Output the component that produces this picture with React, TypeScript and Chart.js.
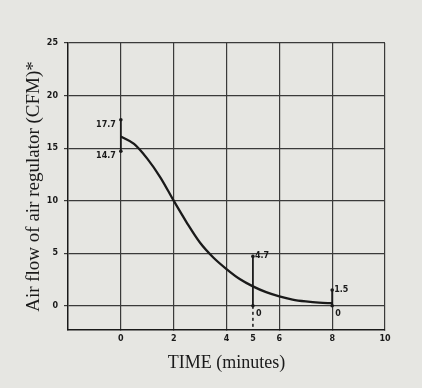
import React, { useEffect, useRef } from "react";
import { Chart, registerables } from "chart.js";
Chart.register(...registerables);

const curveX = [0, 0.5, 1, 1.5, 2, 2.5, 3, 3.5, 4, 4.5, 5, 5.5, 6, 6.5, 7, 7.5, 8];
const curveY = [16.1, 15.4, 14.0, 12.2, 10.0, 7.9, 6.0, 4.6, 3.5, 2.55, 1.85, 1.3, 0.9, 0.6, 0.42, 0.3, 0.25];
const markerX = [0, 5, 8];
const markerLow = [14.7, 0, 0];
const markerHigh = [17.7, 4.7, 1.5];
const noteX = [0, 0, 5, 5, 8, 8];
const noteY = [17.7, 14.7, 4.7, 0, 1.5, 0];
const noteText = ["17.7", "14.7", "4.7", "0", "1.5", "0"];
const xTicks = [0, 2, 4, 5, 6, 8, 10];
const yTicks = [0, 5, 10, 15, 20, 25];
const xMin = -2;
const xMax = 10;
const yMin = -2.3;
const yMax = 25;
const dashedX = 5;
const xTitle = "TIME (minutes)";
const yTitle = "Air flow of air regulator (CFM)*";

const INK = "#1a1a1a";
const GRID = "#3a3a3a";
const BG = "#e6e6e2";

const notesPlugin = {
  id: "notes",
  afterDatasetsDraw(chart: any) {
    const { ctx, scales } = chart;
    ctx.save();
    ctx.fillStyle = INK;
    ctx.font = "bold 8px 'DejaVu Sans'";
    ctx.textBaseline = "middle";
    noteText.forEach((t, i) => {
      const px = scales.x.getPixelForValue(noteX[i]);
      const py = scales.y.getPixelForValue(noteY[i]);
      if (noteX[i] === 0) {
        ctx.textAlign = "right";
        ctx.fillText(t, px - 5, py + 5);
      } else if (noteY[i] === 0) {
        ctx.textAlign = "left";
        ctx.fillText(t, px + 3, py + 8);
      } else {
        ctx.textAlign = "left";
        ctx.fillText(t, px + 2, py);
      }
    });
    ctx.restore();
  },
};

const bgPlugin = {
  id: "bg",
  beforeDraw(chart: any) {
    const { ctx, width, height } = chart;
    ctx.save();
    ctx.fillStyle = BG;
    ctx.fillRect(0, 0, width, height);
    ctx.restore();
  },
};

export default function App() {
  const ref = useRef<HTMLCanvasElement>(null);
  useEffect(() => {
    document.body.style.margin = "0";
    const markerSets = markerX.map((mx, i) => ({
      data: [
        { x: mx, y: markerLow[i] },
        { x: mx, y: markerHigh[i] },
      ],
      showLine: true,
      borderColor: INK,
      backgroundColor: INK,
      borderWidth: 1.8,
      pointRadius: 1.8,
      pointBorderWidth: 0,
    }));
    const chart = new Chart(ref.current!, {
      type: "scatter",
      data: {
        datasets: [
          {
            data: curveX.map((x, i) => ({ x, y: curveY[i] })),
            showLine: true,
            borderColor: INK,
            borderWidth: 2.3,
            pointRadius: 0,
            cubicInterpolationMode: "monotone",
          } as any,
          ...markerSets,
          {
            data: [
              { x: dashedX, y: 0 },
              { x: dashedX, y: yMin },
            ],
            showLine: true,
            borderColor: INK,
            borderWidth: 1.5,
            borderDash: [3, 3],
            pointRadius: 0,
          },
        ],
      },
      options: {
        animation: false,
        responsive: false,
        maintainAspectRatio: false,
        layout: { padding: { top: 43, right: 37, left: 0, bottom: 0 } },
        plugins: { legend: { display: false }, tooltip: { enabled: false } },
        scales: {
          x: {
            type: "linear",
            min: xMin,
            max: xMax,
            afterBuildTicks: (s: any) => {
              s.ticks = xTicks.map((v) => ({ value: v }));
            },
            afterFit: (s: any) => {
              s.height = 58;
            },
            grid: {
              color: (c: any) => (c.tick && c.tick.value === dashedX ? "rgba(0,0,0,0)" : GRID),
              lineWidth: 1.2,
              tickLength: 0,
            },
            border: { display: true, color: INK, width: 1.5 },
            ticks: {
              color: INK,
              padding: 4,
              font: { family: "DejaVu Sans", size: 8, weight: "bold" },
              maxRotation: 0,
            },
            title: {
              display: true,
              text: xTitle,
              color: INK,
              font: { family: "Liberation Serif", size: 18 },
              padding: { top: 0, bottom: 14 },
            },
          },
          y: {
            type: "linear",
            min: yMin,
            max: yMax,
            afterBuildTicks: (s: any) => {
              s.ticks = yTicks.map((v) => ({ value: v }));
            },
            afterFit: (s: any) => {
              s.width = 68;
            },
            grid: { color: GRID, lineWidth: 1.2, tickLength: 4 },
            border: { display: true, color: INK, width: 1.5 },
            ticks: {
              color: INK,
              padding: 6,
              font: { family: "DejaVu Sans", size: 8, weight: "bold" },
            },
            title: {
              display: true,
              text: yTitle,
              color: INK,
              font: { family: "Liberation Serif", size: 19 },
              padding: { top: 23, bottom: 0 },
            },
          },
        },
      },
      plugins: [bgPlugin, notesPlugin],
    });
    return () => chart.destroy();
  }, []);
  return (
    <div style={{ width: 422, height: 388, background: BG }}>
      <canvas ref={ref} width={422} height={388} style={{ display: "block" }} />
    </div>
  );
}
